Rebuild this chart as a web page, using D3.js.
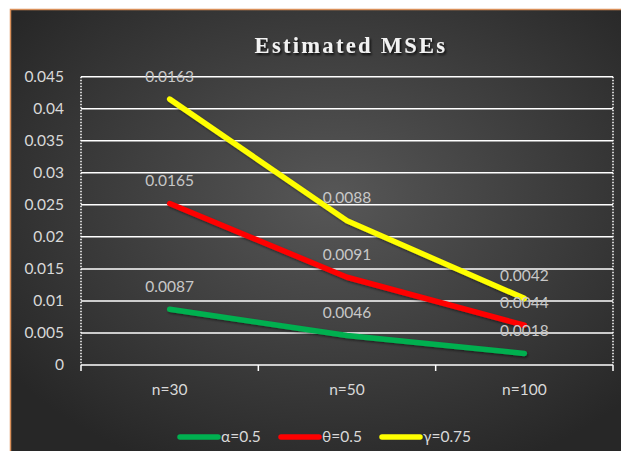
<!DOCTYPE html>
<html>
<head>
<meta charset="utf-8">
<script src="https://cdn.jsdelivr.net/npm/d3@7"></script>
<style>
html,body{margin:0;padding:0;background:#fff;}
svg{display:block;}
</style>
</head>
<body>
<svg id="chart" width="621" height="451"></svg>
<script>
const categories = ["n=30", "n=50", "n=100"];
const seriesNames = ["α=0.5", "θ=0.5", "γ=0.75"];
const alphaValues = [0.0087, 0.0046, 0.0018];
const thetaValues = [0.0165, 0.0091, 0.0044];
const gammaValues = [0.0163, 0.0088, 0.0042];
const seriesColors = ["#00B050", "#FF0000", "#FFFF00"];
const yTicks = [0, 0.005, 0.01, 0.015, 0.02, 0.025, 0.03, 0.035, 0.04, 0.045];
const titleText = "Estimated MSEs";

const svg = d3.select("#chart");
const W = 621, H = 451;

const defs = svg.append("defs");
const rg = defs.append("radialGradient").attr("id", "bg")
  .attr("cx", "52%").attr("cy", "42%").attr("r", "65%");
rg.append("stop").attr("offset", "0%").attr("stop-color", "#575757");
rg.append("stop").attr("offset", "100%").attr("stop-color", "#272727");
const sh = defs.append("filter").attr("id", "tshadow").attr("x", "-10%").attr("y", "-30%").attr("width", "120%").attr("height", "160%");
sh.append("feDropShadow").attr("dx", 1.5).attr("dy", 2).attr("stdDeviation", 1.2).attr("flood-color", "#000").attr("flood-opacity", 0.8);
const lsh = defs.append("filter").attr("id", "lshadow").attr("x", "-10%").attr("y", "-10%").attr("width", "120%").attr("height", "120%");
lsh.append("feDropShadow").attr("dx", 1).attr("dy", 1.5).attr("stdDeviation", 1).attr("flood-color", "#000").attr("flood-opacity", 0.5);

// background frame
svg.append("rect").attr("x", 10.5).attr("y", 9.5).attr("width", W).attr("height", H)
  .attr("fill", "url(#bg)").attr("stroke", "#d9905a").attr("stroke-width", 1.5);

const margin = {left: 81, right: 621 - 613, top: 76.7, bottom: 451 - 365};
const x = d3.scaleBand().domain(categories).range([margin.left, 613]).paddingInner(0).paddingOuter(0);
const y = d3.scaleLinear().domain([0, 0.045]).range([365, margin.top]);

// gridlines
svg.append("g").selectAll("line").data(yTicks.filter(d => d > 0)).join("line")
  .attr("x1", margin.left).attr("x2", 613)
  .attr("y1", d => y(d)).attr("y2", d => y(d))
  .attr("stroke", "#ffffff").attr("stroke-width", 1.5);

// y axis labels
const yAxis = d3.axisLeft(y).tickValues(yTicks).tickSize(0).tickPadding(17)
  .tickFormat(d => d === 0 ? "0" : d3.format("~g")(+d.toFixed(3)));
const gy = svg.append("g").attr("transform", `translate(${margin.left},0)`).call(yAxis);
gy.select(".domain").remove();
gy.selectAll("text").attr("fill", "#d9d9d9").style("font-family", "Lato, 'Open Sans', sans-serif").style("font-size", "15.5px");

// dotted vertical lines
[margin.left, 613].forEach(xx => {
  svg.append("line").attr("x1", xx).attr("x2", xx).attr("y1", margin.top).attr("y2", 365)
    .attr("stroke", "#ffffff").attr("stroke-width", 1.5).attr("stroke-dasharray", "1.5,1.5");
});

// x axis
const xAxis = d3.axisBottom(x).tickSize(0).tickPadding(19);
const gx = svg.append("g").attr("transform", "translate(0,365)").call(xAxis);
gx.select(".domain").attr("stroke", "#ffffff").attr("stroke-width", 1.5).attr("d", `M${margin.left},0H613`);
gx.selectAll("text").attr("fill", "#d9d9d9").style("font-family", "Lato, 'Open Sans', sans-serif").style("font-size", "15.5px");
const bounds = categories.map(c => x(c)).concat([613]);
svg.append("g").selectAll("line").data(bounds).join("line")
  .attr("x1", d => d).attr("x2", d => d).attr("y1", 365).attr("y2", 371)
  .attr("stroke", "#ffffff").attr("stroke-width", 1.5);

// stacked data
const table = categories.map((c, i) => ({cat: c, a: alphaValues[i], t: thetaValues[i], g: gammaValues[i]}));
const stack = d3.stack().keys(["a", "t", "g"]);
const stacked = stack(table);
const line = d3.line().x(d => x(d.data.cat) + x.bandwidth() / 2).y(d => y(d[1]));

svg.append("g").attr("filter", "url(#lshadow)").selectAll("path").data(stacked).join("path")
  .attr("d", line).attr("fill", "none")
  .attr("stroke", (d, i) => seriesColors[i]).attr("stroke-width", 5.5)
  .attr("stroke-linecap", "round").attr("stroke-linejoin", "round");

// data labels (actual values)
stacked.forEach((s, i) => {
  svg.append("g").selectAll("text").data(s).join("text")
    .attr("x", d => x(d.data.cat) + x.bandwidth() / 2)
    .attr("y", d => y(d[1]) - 23)
    .attr("dy", "0.35em")
    .attr("text-anchor", "middle")
    .attr("fill", "#c8c8c8")
    .style("font-family", "Lato, 'Open Sans', sans-serif").style("font-size", "15.5px")
    .text(d => (d[1] - d[0]).toFixed(4));
});

// title
svg.append("text").attr("x", 351).attr("y", 53).attr("text-anchor", "middle")
  .attr("fill", "#f2f2f2").attr("filter", "url(#tshadow)")
  .style("font-family", "'Liberation Serif', 'DejaVu Serif', serif").style("font-weight", "bold")
  .style("font-size", "22.5px").style("letter-spacing", "2.3px")
  .text(titleText);

// legend
const legendX = [178, 279, 380];
const lg = svg.append("g");
seriesNames.forEach((n, i) => {
  lg.append("line").attr("x1", legendX[i] + 2).attr("x2", legendX[i] + 40).attr("y1", 437).attr("y2", 437)
    .attr("stroke", seriesColors[i]).attr("stroke-width", 5.5).attr("stroke-linecap", "round");
  lg.append("text").attr("x", legendX[i] + 43).attr("y", 437).attr("dy", "0.35em")
    .attr("fill", "#d9d9d9").style("font-family", "Lato, 'Open Sans', sans-serif").style("font-size", "15.5px")
    .text(n);
});
</script>
</body>
</html>
